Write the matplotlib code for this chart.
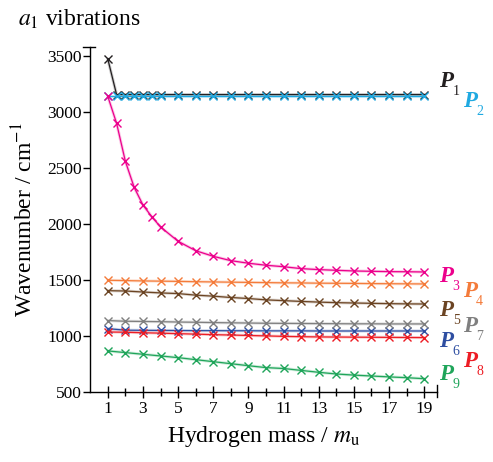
import matplotlib
matplotlib.use("Agg")
import matplotlib.pyplot as plt

plt.rcParams["font.family"] = ["Liberation Serif", "DejaVu Serif"]
plt.rcParams["mathtext.fontset"] = "stix"

# hydrogen masses
mass_fine = [1, 1.5, 2, 2.5, 3, 3.5, 4, 5, 6, 7, 8, 9, 10, 11, 12, 13, 14, 15, 16, 17, 18, 19]
mass_int = list(range(1, 20))

p1 = [3476, 3158, 3158, 3158, 3158, 3158, 3158, 3158, 3158, 3158, 3158,
      3158, 3158, 3158, 3158, 3158, 3158, 3158, 3158, 3158, 3158, 3158]
p2 = [3142, 3142, 3142, 3142, 3142, 3142, 3142, 3142, 3142, 3142, 3142,
      3142, 3142, 3142, 3142, 3142, 3142, 3142, 3142, 3142, 3142, 3142]
p3 = [3142, 2902, 2562, 2330, 2172, 2068, 1976, 1848, 1764, 1714, 1675,
      1652, 1634, 1621, 1604, 1595, 1589, 1583, 1580, 1577, 1576, 1574]
p4 = [1500, 1497, 1494, 1492, 1490, 1487, 1485, 1483, 1481, 1479, 1477,
      1476, 1474, 1473, 1472, 1470, 1469, 1468, 1467]
p5 = [1407, 1404, 1395, 1387, 1381, 1367, 1358, 1346, 1337, 1325, 1318,
      1311, 1305, 1300, 1297, 1294, 1291, 1289, 1288]
p6 = [1068, 1054, 1053, 1052, 1051, 1050, 1050, 1049, 1049, 1048, 1048,
      1048, 1047, 1047, 1047, 1047, 1047, 1047, 1047]
p7 = [1140, 1134, 1132, 1130, 1127, 1125, 1122, 1120, 1118, 1116, 1115,
      1114, 1113, 1112, 1111, 1111, 1110, 1110, 1110]
p8 = [1038, 1036, 1031, 1028, 1023, 1019, 1014, 1011, 1007, 1003, 999,
      996, 994, 993, 992, 991, 990, 989, 988]
p9 = [869, 854, 839, 824, 809, 791, 773, 755, 737, 720, 712,
      695, 678, 663, 653, 645, 637, 630, 621]

series = [
    ("1", mass_fine, p1, "#231f20"),
    ("2", mass_fine, p2, "#1fa9e1"),
    ("3", mass_fine, p3, "#ec008c"),
    ("4", mass_int, p4, "#f47b3a"),
    ("5", mass_int, p5, "#6b4423"),
    ("6", mass_int, p6, "#2e4ea1"),
    ("7", mass_int, p7, "#7f7f7f"),
    ("8", mass_int, p8, "#ed1c24"),
    ("9", mass_int, p9, "#1fa55a"),
]

# label anchors (data coords) for the P_n tags on the right
label_pos = {
    "1": (20.27, 3273), "2": (21.6, 3095), "3": (20.27, 1532),
    "4": (21.6, 1398), "5": (20.27, 1226), "6": (20.27, 952),
    "7": (21.6, 1086), "8": (21.6, 773), "9": (20.27, 654),
}

fig = plt.figure(figsize=(4.93, 4.62), dpi=100)
ax = fig.add_axes([0.183, 0.151, 0.704, 0.748])

for name, xs, ys, color in series:
    ax.plot(xs, ys, color=color, lw=2.2, alpha=0.22, solid_capstyle="round")
    ax.plot(xs, ys, color=color, lw=0.9, marker="x", ms=5.5, mew=1.0)
    lx, ly = label_pos[name]
    ax.text(lx, ly, "P", color=color, fontsize=16.5, fontstyle="italic",
            fontweight="bold", ha="center", va="center", clip_on=False)
    ax.text(lx + 0.55, ly - 85, name, color=color, fontsize=10,
            ha="center", va="center", clip_on=False)

ax.set_xlim(0, 19.75)
ax.set_ylim(500, 3586)
ax.set_xticks(range(1, 20, 2))
ax.set_xticks(range(2, 20, 2), minor=True)
ax.set_yticks(range(500, 3501, 500))

for side in ("top", "right"):
    ax.spines[side].set_visible(False)
ax.spines["left"].set_linewidth(1.0)
ax.spines["bottom"].set_linewidth(1.0)
ax.tick_params(axis="x", which="both", direction="inout", length=9, width=1.0,
               labelsize=12.5, pad=2)
ax.tick_params(axis="x", which="minor", length=6)
ax.tick_params(axis="y", direction="out", length=5, width=1.0, labelsize=12.5, pad=1)

# end caps on the axes
ax.plot([-0.02, 0.015], [1, 1], transform=ax.transAxes, color="black", lw=1.0,
        clip_on=False)
ax.plot([1, 1], [-0.015, 0.02], transform=ax.transAxes, color="black", lw=1.0,
        clip_on=False)

ax.set_xlabel(r"Hydrogen mass / $m_\mathrm{u}$", fontsize=17, labelpad=5)
ax.set_ylabel(r"Wavenumber / cm$^{-1}$", fontsize=17, labelpad=7)
fig.text(0.037, 0.958, r"$a_1$ vibrations", fontsize=17, ha="left", va="center")

fig.savefig("out.png", dpi=100)
